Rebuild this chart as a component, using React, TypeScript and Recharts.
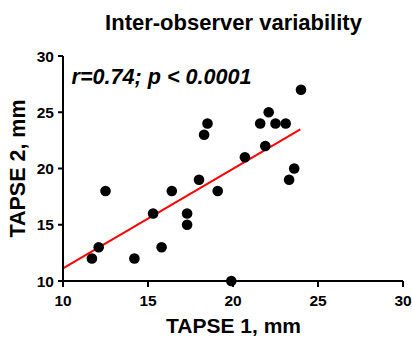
import { ScatterChart, Scatter, XAxis, YAxis, ReferenceLine, Label } from 'recharts';

// TAPSE 1 (x) と TAPSE 2 (y)
const tapse1 = [11.7, 12.1, 12.5, 14.2, 15.3, 15.8, 16.4, 17.3, 17.3, 18.0, 18.3, 18.5, 19.1, 19.9, 20.7, 21.6, 22.1, 21.9, 22.5, 23.1, 23.3, 23.6, 24.0];
const tapse2 = [12, 13, 18, 12, 16, 13, 18, 16, 15, 19, 23, 24, 18, 10, 21, 24, 25, 22, 24, 24, 19, 20, 27];

// 回帰直線の端点
const fitX = [10, 23.96];
const fitY = [11.12, 23.47];

const ticks = [10, 15, 20, 25, 30];

const font = '"Liberation Sans", Arial, sans-serif';

const data = tapse1.map((x, i) => ({ x, y: tapse2[i] }));

const App = () => {
  return (
    <div style={{ width: 412, height: 337 }}>
      <style>{'body{margin:0}'}</style>
      <ScatterChart width={412} height={337} margin={{ top: 56, right: 9, bottom: 0, left: 0 }}>
        <text x={233.5} y={29.5} textAnchor="middle" fontFamily={font} fontWeight="bold" fontSize={22} fill="#000">
          Inter-observer variability
        </text>
        <text x={71.5} y={83.5} fontFamily={font} fontWeight="bold" fontStyle="italic" fontSize={21.6} fill="#000">
          r=0.74; p &lt; 0.0001
        </text>
        <XAxis
          type="number"
          dataKey="x"
          domain={[10, 30]}
          ticks={ticks}
          height={56}
          axisLine={{ stroke: '#000', strokeWidth: 2 }}
          tickLine={{ stroke: '#000', strokeWidth: 2 }}
          tickSize={6}
          tickMargin={8}
          tick={{ fill: '#000', fontSize: 15.5, fontWeight: 'bold', fontFamily: font }}
        >
          <Label
            content={() => (
              <text x={233.5} y={332.5} textAnchor="middle" fontFamily={font} fontWeight="bold" fontSize={21} fill="#000">
                TAPSE 1, mm
              </text>
            )}
          />
        </XAxis>
        <YAxis
          type="number"
          dataKey="y"
          domain={[10, 30]}
          ticks={ticks}
          width={63}
          axisLine={{ stroke: '#000', strokeWidth: 2 }}
          tickLine={{ stroke: '#000', strokeWidth: 2 }}
          tickSize={5}
          tickMargin={4}
          tick={{ fill: '#000', fontSize: 15.5, fontWeight: 'bold', fontFamily: font }}
        >
          <Label
            content={() => (
              <text x={25} y={168.5} transform="rotate(-90 25 168.5)" textAnchor="middle" fontFamily={font} fontWeight="bold" fontSize={21.5} fill="#000">
                TAPSE 2, mm
              </text>
            )}
          />
        </YAxis>
        <ReferenceLine
          segment={[{ x: fitX[0], y: fitY[0] }, { x: fitX[1], y: fitY[1] }]}
          stroke="#ff0000"
          strokeWidth={2}
          ifOverflow="visible"
        />
        <Scatter
          data={data}
          fill="#000"
          isAnimationActive={false}
          shape={(p: any) => <circle cx={p.cx} cy={p.cy} r={5.3} fill="#000" />}
        />
      </ScatterChart>
    </div>
  );
};

export default App;
